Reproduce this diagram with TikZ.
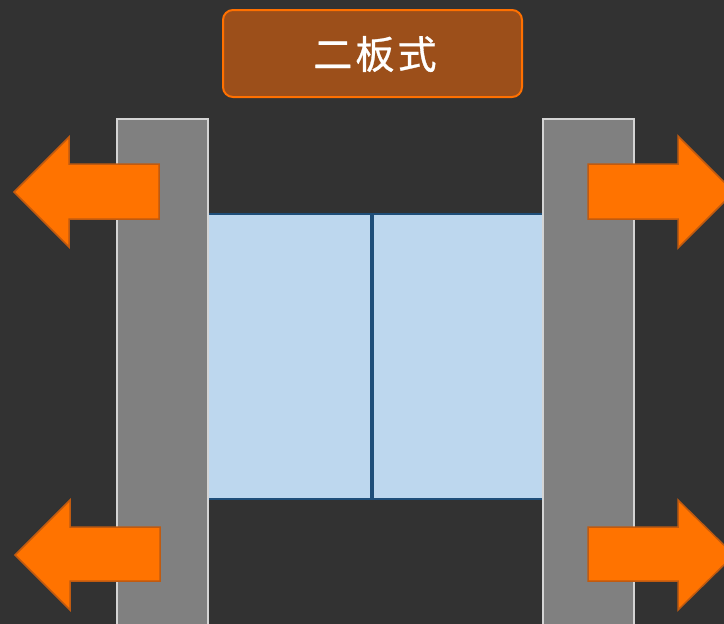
\documentclass[tikz,border=0pt]{standalone}
\usepackage{fontspec}
\newfontfamily\cjk[LetterSpace=8,FakeBold=0.8]{Noto Sans CJK SC}
\definecolor{bg}{HTML}{323232}
\definecolor{titlefill}{HTML}{9C4F1A}
\definecolor{orangeline}{HTML}{FF7000}
\definecolor{arrowfill}{HTML}{FF7300}
\definecolor{arrowline}{HTML}{C05A10}
\definecolor{platefill}{HTML}{808080}
\definecolor{plateline}{HTML}{D4D4D4}
\definecolor{blockfill}{HTML}{BDD7EE}
\definecolor{blockline}{HTML}{1F4E79}
\begin{document}
\begin{tikzpicture}[x=1pt,y=-1pt,
  plate/.style={fill=platefill,draw=plateline,line width=1.6pt},
  block/.style={fill=blockfill,draw=blockline,line width=1.6pt},
  bigarrow/.style={fill=arrowfill,draw=arrowline,line width=1.5pt,line join=miter},
  titlebox/.style={fill=titlefill,draw=orangeline,line width=2pt,rounded corners=10pt}]
\useasboundingbox (0,0) rectangle (724,624);
\fill[bg] (0,0) rectangle (724,624);
\clip (0,0) rectangle (724,624);
% blocks
\draw[block] (208,214) rectangle (372,499);
\draw[block] (372,214) rectangle (543,499);
\draw[blockline,line width=4pt] (372,214) -- (372,499);
% plates
\draw[plate] (117,119) rectangle (208,640);
\draw[plate] (543,119) rectangle (634,640);
% left arrows
\draw[bigarrow] (159,164) -- (69,164) -- (69,137) -- (14,192) -- (69,247) -- (69,219) -- (159,219) -- cycle;
\draw[bigarrow] (160,527) -- (70,527) -- (70,500) -- (15,555) -- (70,610) -- (70,581) -- (160,581) -- cycle;
% right arrows
\draw[bigarrow] (588,164) -- (678,164) -- (678,136) -- (734,192) -- (678,248) -- (678,219) -- (588,219) -- cycle;
\draw[bigarrow] (588,527) -- (678,527) -- (678,500) -- (734,555) -- (678,610) -- (678,581) -- (588,581) -- cycle;
% title
\draw[titlebox] (223,10) rectangle (522,97);
\node[text=white,font=\cjk\fontsize{39}{40}\selectfont] (title) at (375,54) {二板式};
\end{tikzpicture}
\end{document}
